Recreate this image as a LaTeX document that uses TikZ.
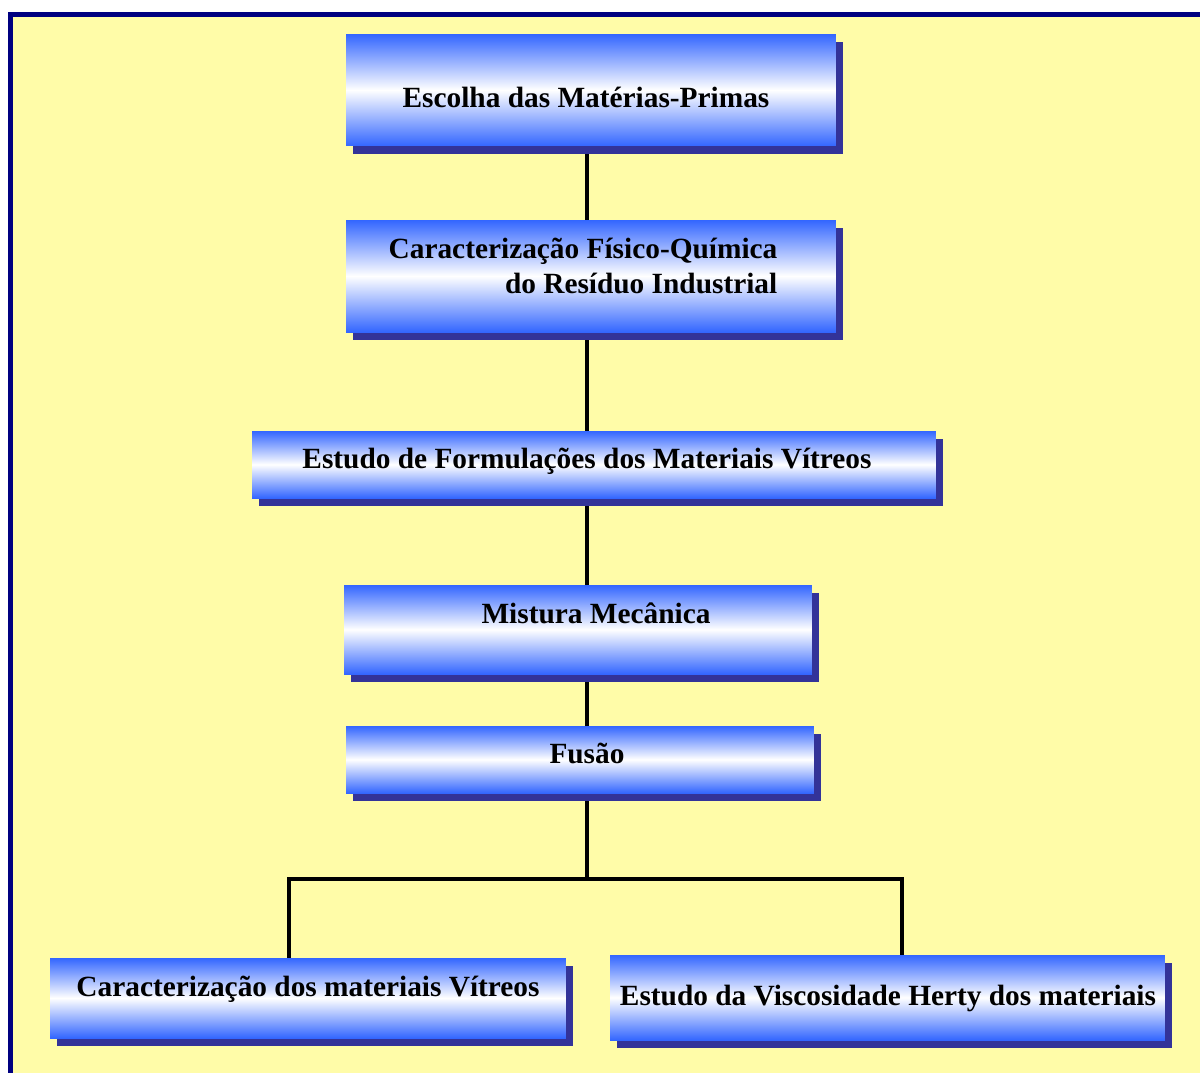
\documentclass[tikz,border=0pt]{standalone}
\usepackage{fontspec}
\setmainfont{Liberation Serif}
\usetikzlibrary{shadows}

\definecolor{paper}{RGB}{255,252,168}
\definecolor{frameblue}{RGB}{0,0,128}
\definecolor{boxblue}{RGB}{51,102,255}
\definecolor{shadowblue}{RGB}{51,51,153}

\begin{document}
\begin{tikzpicture}[
                            x=0.02cm,
                            y=-0.02cm,
                            box/.style={
                                rectangle,
                                inner sep=0pt,
                                top color=boxblue,
                                bottom color=boxblue,
                                middle color=white,
                                drop shadow={shadow xshift=0.14cm, shadow yshift=-0.16cm,
                                             fill=shadowblue, opacity=1}
                            },
                            link/.style={line width=2.6pt, black},
                            fromshadow/.style={shorten <=0.16cm}
                        ]
                        \tikzstyle{caption}=[inner sep=0pt, font=\bfseries\fontsize{16.7}{20}\selectfont, text=black]

                        % frame
                        \useasboundingbox (0,0) rectangle (1200,1073);
                        \fill[white]       (0,0)   rectangle (1200,1073);
                        \fill[frameblue]   (8,12)  rectangle (1200,1073);
                        \fill[paper]       (13,17) rectangle (1200,1073);

                        \coordinate (spine) at (587,0);

                        \node[box, minimum width=9.8cm,   minimum height=2.24cm] (escolha)  at (591,90)    {};
                        \node[box, minimum width=9.8cm,   minimum height=2.24cm] (residuo)  at (591,276)   {};
                        \node[box, minimum width=13.68cm, minimum height=1.34cm] (formul)   at (594,464.5) {};
                        \node[box, minimum width=9.36cm,  minimum height=1.78cm] (mistura)  at (578,629.5) {};
                        \node[box, minimum width=9.36cm,  minimum height=1.34cm] (fusao)    at (580,759.5) {};
                        \node[box, minimum width=10.32cm, minimum height=1.6cm]  (vitreos)  at (308,998)   {};
                        \node[box, minimum width=11.1cm,  minimum height=1.7cm]  (viscos)   at (887.5,997.5) {};

                        \node[caption] (escolha-txt) at (586,97)  {Escolha das Matérias-Primas};
                        \node[caption, align=right] (residuo-txt) at (583,266)
                            {Caracterização Físico-Química\\do Resíduo Industrial};
                        \node[caption] (formul-txt)  at (587,461) {Estudo de Formulações dos Materiais Vítreos};
                        \node[caption] (mistura-txt) at (596,613) {Mistura Mecânica};
                        \node[caption] (fusao-txt)   at (587,753) {Fusão};
                        \node[caption] (vitreos-txt) at (308,989) {Caracterização dos materiais Vítreos};
                        \node[caption] (viscos-txt)  at (888,998) {Estudo da Viscosidade Herty dos materiais};

                        \coordinate (split)     at (587,879);
                        \coordinate (leftdrop)  at (289,879);
                        \coordinate (rightdrop) at (902,879);

                        \draw[link, fromshadow] (escolha.south -| spine) -- (residuo.north -| spine);
                        \draw[link, fromshadow] (residuo.south -| spine) -- (formul.north -| spine);
                        \draw[link, fromshadow] (formul.south -| spine)  -- (mistura.north -| spine);
                        \draw[link, fromshadow] (mistura.south -| spine) -- (fusao.north -| spine);
                        \draw[link, fromshadow] (fusao.south -| spine)   -- (split);
                        \draw[link] (leftdrop |- vitreos.north) -- (leftdrop) -- (rightdrop) -- (rightdrop |- viscos.north);
                    \end{tikzpicture}
\end{document}
